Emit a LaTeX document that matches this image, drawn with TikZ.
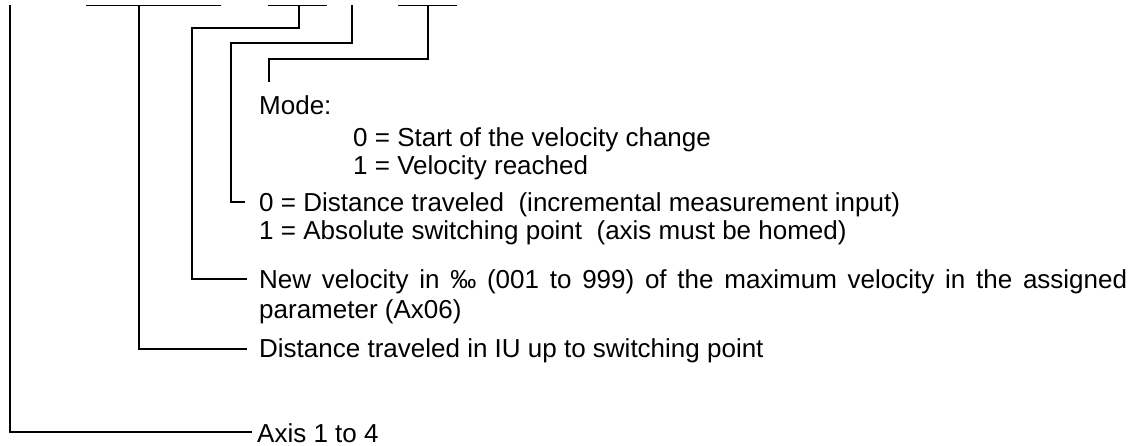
\documentclass[tikz,border=0pt]{standalone}
\usepackage{fontspec}
\setmainfont{Liberation Sans}
\begin{document}
\begin{tikzpicture}[x=1pt,y=-1pt,
  wire/.style={line width=1.3pt},
  lbl/.style={anchor=base west, inner sep=0pt, font=\fontsize{26}{30}\selectfont}]
\useasboundingbox (0,0) rectangle (1141,446);
% top bars
\coordinate (barAl) at (86,5.5);   \coordinate (barAr) at (221,5.5);
\coordinate (barBl) at (268,5.5);  \coordinate (barBr) at (327,5.5);
\coordinate (barDl) at (398,5.5);  \coordinate (barDr) at (457,5.5);
\draw[wire] (barAl) -- (barAr);
\draw[wire] (barBl) -- (barBr);
\draw[wire] (barDl) -- (barDr);
% taps on the bars
\coordinate (tAxis) at (10,5.5);
\coordinate (tDist) at (139,5.5);
\coordinate (tVel)  at (299,5.5);
\coordinate (tSw)   at (352,5.5);
\coordinate (tMode) at (428,5.5);
% free ends of connectors
\coordinate (eAxis) at (252,432);
\coordinate (eDist) at (247,349);
\coordinate (eVel)  at (247,279);
\coordinate (eSw)   at (245,202);
\coordinate (eMode) at (269,82);
% texts
\node[lbl] (mode)  at (259,115) {Mode:};
\node[lbl] (m0)    at (353,147) {0 = Start of the velocity change};
\node[lbl] (m1)    at (353,175) {1 = Velocity reached};
\node[lbl] (s0)    at (259,212) {0 = Distance traveled\ \ (incremental measurement input)};
\node[lbl] (s1)    at (259,240) {1 = Absolute switching point\ \ (axis must be homed)};
\node[lbl] (vel1)  at (259,289) {\makebox[868pt][s]{New velocity in ‰ (001 to 999) of the maximum velocity in the assigned}};
\node[lbl] (vel2)  at (259,319) {parameter (Ax06)};
\node[lbl] (dist)  at (259,358) {Distance traveled in IU up to switching point};
\node[lbl] (axis)  at (257,442) {Axis 1 to 4};
% connectors
\draw[wire] (tAxis) -- (10,432) -- (eAxis);
\draw[wire] (tDist) -- (139,349) -- (eDist);
\draw[wire] (tVel) -- (299,28) -- (192,28) -- (192,279) -- (eVel);
\draw[wire] (tSw) -- (352,43) -- (231,43) -- (231,202) -- (eSw);
\draw[wire] (tMode) -- (428,59) -- (269,59) -- (eMode);
\end{tikzpicture}
\end{document}
